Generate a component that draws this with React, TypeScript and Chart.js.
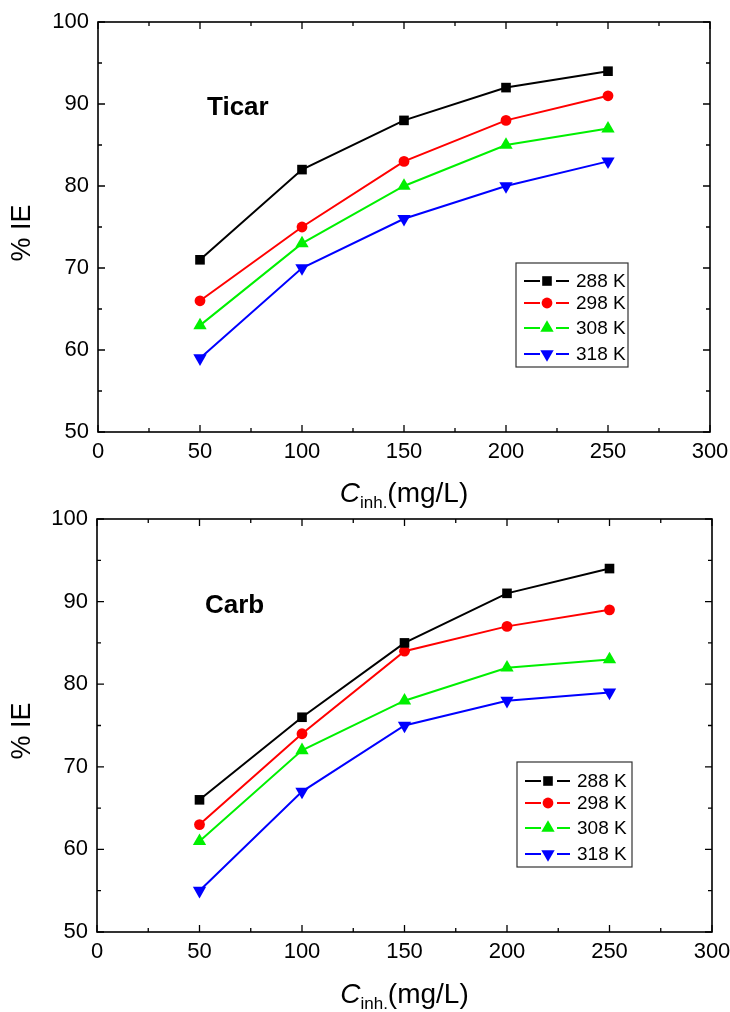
import React, { useEffect, useRef } from "react";
import { Chart, registerables } from "chart.js";

Chart.register(...registerables);

// ---------- data ----------
const concentrations = [50, 100, 150, 200, 250];
const temperatureLabels = ["288 K", "298 K", "308 K", "318 K"];

const ticar288 = [71, 82, 88, 92, 94];
const ticar298 = [66, 75, 83, 88, 91];
const ticar308 = [63, 73, 80, 85, 87];
const ticar318 = [59, 70, 76, 80, 83];

const carb288 = [66, 76, 85, 91, 94];
const carb298 = [63, 74, 84, 87, 89];
const carb308 = [61, 72, 78, 82, 83];
const carb318 = [55, 67, 75, 78, 79];

const xTickValues = [0, 50, 100, 150, 200, 250, 300];
const yTickValues = [50, 60, 70, 80, 90, 100];

// ---------- styles ----------
const W = 730;
const FONT = "'Liberation Sans', Arial, Helvetica, sans-serif";
const seriesColors = ["#000000", "#ff0000", "#00f000", "#0000ff"];
const seriesShapes = ["rect", "circle", "triangle", "triangleDown"];

type Box = { left: number; right: number; top: number; bottom: number };
type Panel = {
  name: string;
  series: number[][];
  canvasTop: number;
  canvasHeight: number;
  area: Box;
  legend: Box & { rows: number[] };
  labelPos: { x: number; y: number };
  yTitleY: number;
  xTitleY: number;
};

const panels: Panel[] = [
  {
    name: "Ticar",
    series: [ticar288, ticar298, ticar308, ticar318],
    canvasTop: 0,
    canvasHeight: 514,
    area: { left: 98, right: 710, top: 22, bottom: 432 },
    legend: { left: 516, right: 628, top: 263, bottom: 367, rows: [281, 303, 328, 354] },
    labelPos: { x: 207, y: 115 },
    yTitleY: 233,
    xTitleY: 502,
  },
  {
    name: "Carb",
    series: [carb288, carb298, carb308, carb318],
    canvasTop: 506,
    canvasHeight: 506,
    area: { left: 97, right: 712, top: 13, bottom: 426 },
    legend: { left: 517, right: 632, top: 256, bottom: 361, rows: [275, 297, 322, 348] },
    labelPos: { x: 205, y: 107 },
    yTitleY: 225,
    xTitleY: 497,
  },
];

function drawMarker(ctx: CanvasRenderingContext2D, shape: string, x: number, y: number, color: string) {
  ctx.save();
  ctx.fillStyle = color;
  ctx.beginPath();
  if (shape === "rect") {
    const s = 9.6;
    ctx.rect(x - s / 2, y - s / 2, s, s);
  } else if (shape === "circle") {
    ctx.arc(x, y, 5.4, 0, Math.PI * 2);
  } else if (shape === "triangle") {
    const r = 7.7;
    ctx.moveTo(x, y - r);
    ctx.lineTo(x + r * Math.sin((2 * Math.PI) / 3), y + r / 2);
    ctx.lineTo(x - r * Math.sin((2 * Math.PI) / 3), y + r / 2);
    ctx.closePath();
  } else {
    const r = 7.7;
    ctx.moveTo(x, y + r);
    ctx.lineTo(x + r * Math.sin((2 * Math.PI) / 3), y - r / 2);
    ctx.lineTo(x - r * Math.sin((2 * Math.PI) / 3), y - r / 2);
    ctx.closePath();
  }
  ctx.fill();
  ctx.restore();
}

function makeDecorPlugin(panel: Panel) {
  return {
    id: "decor",
    afterDraw(chart: any) {
      const ctx: CanvasRenderingContext2D = chart.ctx;
      const a = chart.chartArea;
      const xs = chart.scales.x;
      const ys = chart.scales.y;
      ctx.save();
      // frame
      ctx.strokeStyle = "#000";
      ctx.lineWidth = 1.6;
      ctx.strokeRect(a.left, a.top, a.right - a.left, a.bottom - a.top);
      // ticks (inside, all sides)
      ctx.lineWidth = 1.3;
      ctx.beginPath();
      for (let v = 0; v <= 300; v += 25) {
        const px = xs.getPixelForValue(v);
        const len = v % 50 === 0 ? 7 : 4;
        ctx.moveTo(px, a.bottom);
        ctx.lineTo(px, a.bottom - len);
        ctx.moveTo(px, a.top);
        ctx.lineTo(px, a.top + len);
      }
      for (let v = 50; v <= 100; v += 5) {
        const py = ys.getPixelForValue(v);
        const len = v % 10 === 0 ? 7 : 4;
        ctx.moveTo(a.left, py);
        ctx.lineTo(a.left + len, py);
        ctx.moveTo(a.right, py);
        ctx.lineTo(a.right - len, py);
      }
      ctx.stroke();

      // panel label
      ctx.fillStyle = "#000";
      ctx.font = `bold 26px ${FONT}`;
      ctx.textAlign = "left";
      ctx.textBaseline = "alphabetic";
      ctx.fillText(panel.name, panel.labelPos.x, panel.labelPos.y);

      // y title
      ctx.save();
      ctx.translate(23, panel.yTitleY);
      ctx.rotate(-Math.PI / 2);
      ctx.font = `27px ${FONT}`;
      ctx.textAlign = "center";
      ctx.textBaseline = "middle";
      ctx.fillText("% IE", 0, 0);
      ctx.restore();

      // x title with subscript
      const big = `28px ${FONT}`;
      const bigI = `italic 28px ${FONT}`;
      const small = `17px ${FONT}`;
      ctx.font = bigI;
      const wC = ctx.measureText("C").width;
      ctx.font = small;
      const wS = ctx.measureText("inh.").width;
      ctx.font = big;
      const wR = ctx.measureText("(mg/L)").width;
      const total = wC + wS + wR;
      const cx = (a.left + a.right) / 2;
      let x0 = cx - total / 2;
      ctx.textAlign = "left";
      ctx.textBaseline = "alphabetic";
      ctx.font = bigI;
      ctx.fillText("C", x0, panel.xTitleY);
      x0 += wC;
      ctx.font = small;
      ctx.fillText("inh.", x0, panel.xTitleY + 6);
      x0 += wS;
      ctx.font = big;
      ctx.fillText("(mg/L)", x0, panel.xTitleY);

      // legend
      const lg = panel.legend;
      ctx.fillStyle = "#fff";
      ctx.fillRect(lg.left, lg.top, lg.right - lg.left, lg.bottom - lg.top);
      ctx.strokeStyle = "#333";
      ctx.lineWidth = 1.2;
      ctx.strokeRect(lg.left, lg.top, lg.right - lg.left, lg.bottom - lg.top);
      chart.data.datasets.forEach((ds: any, i: number) => {
        const y = lg.rows[i];
        const mx = lg.left + 31;
        ctx.strokeStyle = ds.borderColor;
        ctx.lineWidth = 2;
        ctx.beginPath();
        ctx.moveTo(lg.left + 8, y);
        ctx.lineTo(mx - 7, y);
        ctx.moveTo(mx + 9, y);
        ctx.lineTo(lg.left + 53, y);
        ctx.stroke();
        drawMarker(ctx, seriesShapes[i], mx, y, ds.borderColor);
        ctx.fillStyle = "#000";
        ctx.font = `19px ${FONT}`;
        ctx.textAlign = "left";
        ctx.textBaseline = "middle";
        ctx.fillText(ds.label, lg.left + 60, y + 1);
      });
      ctx.restore();
    },
  };
}

function pointStyleFor(shape: string) {
  if (shape === "triangleDown") return { pointStyle: "triangle", rotation: 180, pointRadius: 7.7 };
  if (shape === "rect") return { pointStyle: "rect", rotation: 0, pointRadius: 6.8 };
  if (shape === "circle") return { pointStyle: "circle", rotation: 0, pointRadius: 5.4 };
  return { pointStyle: "triangle", rotation: 0, pointRadius: 7.7 };
}

function PanelChart({ panel }: { panel: Panel }) {
  const ref = useRef<HTMLCanvasElement | null>(null);
  const H = panel.canvasHeight;
  useEffect(() => {
    if (!ref.current) return;
    const area = panel.area;
    const datasets = panel.series.map((vals, i) => {
      const ps = pointStyleFor(seriesShapes[i]);
      return {
        label: temperatureLabels[i],
        data: concentrations.map((c, j) => ({ x: c, y: vals[j] })),
        borderColor: seriesColors[i],
        backgroundColor: seriesColors[i],
        borderWidth: 2,
        pointBackgroundColor: seriesColors[i],
        pointBorderColor: seriesColors[i],
        pointBorderWidth: 0,
        pointStyle: ps.pointStyle,
        rotation: ps.rotation,
        pointRadius: ps.pointRadius,
        tension: 0,
        fill: false,
      };
    });
    const tickFont = { family: FONT, size: 22 };
    const chart = new Chart(ref.current, {
      type: "line",
      data: { datasets },
      options: {
        responsive: false,
        animation: false,
        layout: { padding: { top: area.top, right: W - area.right, left: 0, bottom: 0 } },
        plugins: { legend: { display: false }, tooltip: { enabled: false }, title: { display: false } },
        scales: {
          x: {
            type: "linear",
            position: "bottom",
            min: 0,
            max: 300,
            afterFit: (s: any) => {
              s.height = H - area.bottom;
              s.paddingLeft = 0;
              s.paddingRight = 0;
            },
            afterBuildTicks: (s: any) => {
              s.ticks = xTickValues.map((v) => ({ value: v }));
            },
            grid: { display: false, drawTicks: false },
            border: { display: false },
            ticks: { autoSkip: false, maxRotation: 0, padding: 7, color: "#000", font: tickFont },
          },
          y: {
            type: "linear",
            position: "left",
            min: 50,
            max: 100,
            afterFit: (s: any) => {
              s.width = area.left;
              s.paddingTop = 0;
              s.paddingBottom = 0;
            },
            afterBuildTicks: (s: any) => {
              s.ticks = yTickValues.map((v) => ({ value: v }));
            },
            grid: { display: false, drawTicks: false },
            border: { display: false },
            ticks: { autoSkip: false, padding: 9, color: "#000", font: tickFont },
          },
        },
      } as any,
      plugins: [makeDecorPlugin(panel)],
    });
    return () => chart.destroy();
  }, [panel]);
  return (
    <canvas
      ref={ref}
      width={W}
      height={H}
      style={{ position: "absolute", left: 0, top: panel.canvasTop, display: "block", width: W, height: H }}
    />
  );
}

export default function App() {
  return (
    <div style={{ position: "absolute", left: 0, top: 0, width: W, height: 1012, background: "#fff", overflow: "hidden" }}>
      {panels.map((p) => (
        <PanelChart key={p.name} panel={p} />
      ))}
    </div>
  );
}
